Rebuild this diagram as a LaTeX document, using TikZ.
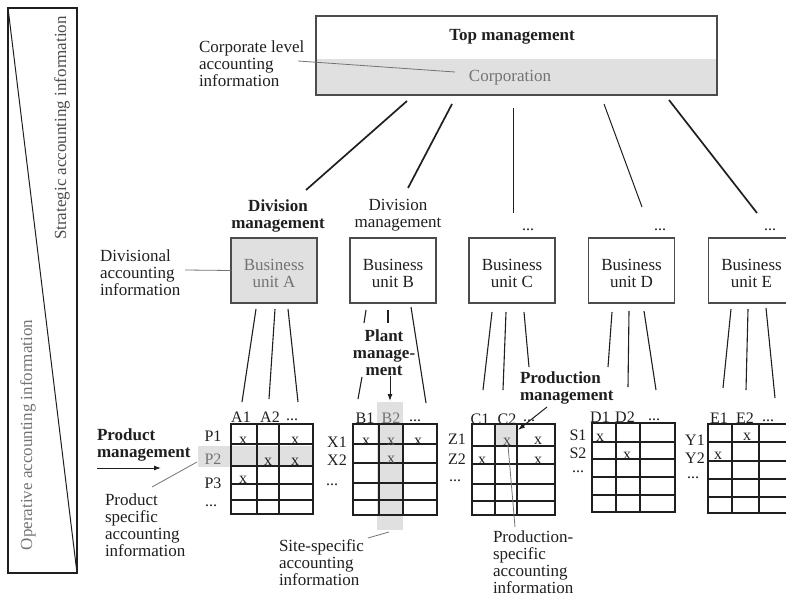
\documentclass[tikz,border=0pt]{standalone}
\usepackage{fontspec}
\setmainfont{Liberation Serif}
\usetikzlibrary{arrows.meta}

\definecolor{paleband}{gray}{0.88}
\definecolor{ink}{gray}{0.12}
\definecolor{soft}{gray}{0.45}
\definecolor{mid}{gray}{0.3}

% three dots used as an open-ended label
\newcommand\trail{...}

% grid of a responsibility matrix: name, left, top, right, bottom, col1, col2, row list
\newcommand\acgrid[8]{%
  \node[gridbox, minimum width={(#4)-(#2)}, minimum height={(#5)-(#3)}]
    (#1) at ({(#2+#4)/2},{(#3+#5)/2}) {};
  \foreach \r in {#8} {\draw[gridline] (#2,\r) -- (#4,\r);}
  \draw[gridline] (#6,#3) -- (#6,#5);
  \draw[gridline] (#7,#3) -- (#7,#5);
}

\begin{document}
\begin{tikzpicture}[x=1pt,y=-1pt,
  every node/.style={inner sep=0pt, outer sep=0pt},
  txt/.style={font=\fontsize{17}{17}\selectfont, align=left, text=ink},
  ctxt/.style={font=\fontsize{17}{17}\selectfont, align=center, text=ink},
  btxt/.style={font=\fontsize{17}{17}\selectfont\bfseries, align=left, text=ink},
  lbl/.style={font=\fontsize{16}{16}\selectfont, text=ink},
  xmark/.style={font=\fontsize{16}{16}\selectfont, text=ink},
  unitbox/.style={draw=mid, line width=1.1pt, minimum width=86pt, minimum height=65pt},
  gridbox/.style={draw=ink, line width=1.2pt},
  gridline/.style={draw=ink, line width=1.1pt},
  thickwire/.style={draw=ink, line width=1.7pt},
  thinwire/.style={draw=ink, line width=1pt},
  feeder/.style={draw=ink, line width=1.1pt},
  pointer/.style={draw=soft, line width=0.8pt},
  tip/.style={-{Latex[length=7pt,width=5pt]}, draw=ink, line width=1pt},
]
\useasboundingbox (0,0) rectangle (786,596);
\clip (0,0) rectangle (786,596);

% wedge: strategic versus operative information
\coordinate (wtl) at (8,8);
\coordinate (wbr) at (77,573);
\draw[draw=ink, line width=1.1pt] (wtl) rectangle (wbr);
\draw[draw=ink, line width=1pt] (wtl) -- (wbr);
\node[font=\fontsize{17}{17}\selectfont, text=mid, rotate=90] (strat) at (62,128)
  {Strategic accounting information};
\node[font=\fontsize{17}{17}\selectfont, text=soft, rotate=90] (oper) at (28,435)
  {Operative accounting information};

% corporation level
\fill[paleband] (316,59) rectangle (717,95);
\node[draw=mid, line width=1.1pt, minimum width=401pt, minimum height=79pt] (top) at (516.5,55.5) {};
\node[btxt] (topttl) at (512,37) {Top management};
\node[font=\fontsize{17}{17}\selectfont, text=soft] (corp) at (510,78) {Corporation};
\node[txt, anchor=west] (corptxt) at (199,64) {Corporate level\\accounting\\information};
\coordinate (cpa) at (298,61);
\coordinate (cpb) at (455,72);
\draw[pointer] (cpa) -- (cpb);

% links from the corporation to the divisions
\foreach \n/\xa/\ya/\xb/\yb/\w in {t1/407/101/306/190/thickwire, t2/452/104/408/188/thickwire,
    t3/513/108/513/213/thinwire, t4/604/104/642/207/thinwire, t5/669/100/757/213/thickwire} {
  \coordinate (\n s) at (\xa,\ya);
  \coordinate (\n e) at (\xb,\yb);
  \draw[\w] (\n s) -- (\n e);
}

% division labels
\node[btxt, align=center] (divA) at (278,215.5) {Division\\management};
\node[ctxt] (divB) at (398,215.5) {Division\\management};
\node[lbl] (dotsC) at (528,230) {\trail};
\node[lbl] (dotsD) at (660,230) {\trail};
\node[lbl] (dotsE) at (770,230) {\trail};

% business units
\node[unitbox, fill=paleband] (buA) at (274,270.5) {};
\node[unitbox] (buB) at (393,270.5) {};
\node[unitbox] (buC) at (512,270.5) {};
\node[unitbox] (buD) at (631.5,270.5) {};
\node[unitbox] (buE) at (751.5,270.5) {};
\node[ctxt, text=soft] (tA) at (274,273.5) {Business\\unit A};
\node[ctxt] (tB) at (393,273.5) {Business\\unit B};
\node[ctxt] (tC) at (512,273.5) {Business\\unit C};
\node[ctxt] (tD) at (631.5,273.5) {Business\\unit D};
\node[ctxt] (tE) at (751.5,273.5) {Business\\unit E};

\node[txt, anchor=west] (divinfo) at (100,273) {Divisional\\accounting\\information};
\coordinate (dva) at (185,270);
\draw[pointer] (dva) -- (buA.west);

% links from business units to the matrices
\foreach \n/\xa/\ya/\xb/\yb in {
    a1/256/309/242/402, a2/275/309/269/399, a3/288/309/298/402,
    b1/366/310/364/323, b2/388/310/388/323, b3/411/307/426/403, b4/362/377/358/399,
    c1/492/312/483/390, c2/506/312/503/390, c3/524/312/529/367,
    d1/612/312/608/367, d2/629/311/628/387, d3/644/311/656/390,
    e1/731/309/723/388, e2/748/309/746/390, e3/766/308/775/398} {
  \coordinate (\n s) at (\xa,\ya);
  \coordinate (\n e) at (\xb,\yb);
  \draw[feeder] (\n s) -- (\n e);
}

% highlighted areas
\fill[paleband] (198,446) rectangle (313,467);
\fill[paleband] (377,402) rectangle (403,530);
\fill[paleband] (495,423) rectangle (517,446);

% matrices
\acgrid{matA}{231}{424}{313}{514}{257}{279}{444,466,484,500}
\acgrid{matB}{353}{424}{437}{515}{379}{403}{444,463,483,500}
\acgrid{matC}{472}{424}{555}{515}{495}{517}{446,464,484,501}
\acgrid{matD}{592}{423}{675}{512}{616}{640}{442,459,477,495}
\acgrid{matE}{708}{424}{800}{513}{732}{759}{442,461,479,497}

% matrix headings
\foreach \n/\t/\x/\y in {hA1/A1/241/417, hA2/A2/270/417, hA3/\trail/292/420,
    rA1/P1/213/436, rA3/P3/213/483, rA4/\trail/211/506,
    hB1/B1/365/418, hB3/\trail/415/421,
    rB1/X1/337/442, rB2/X2/337/460, rB3/\trail/332/485,
    hC1/C1/480/419, hC2/C2/507/419, hC3/\trail/529/421,
    rC1/Z1/457/439, rC2/Z2/457/459, rC3/\trail/455/481,
    hD1/D1/600/417, hD2/D2/625/417, hD3/\trail/654/420,
    rD1/S1/578/435, rD2/S2/578/453, rD3/\trail/578/472,
    hE1/E1/719/418, hE2/E2/745/418, hE3/\trail/768/421,
    rE1/Y1/695/440.5, rE2/Y2/695/458.5, rE3/\trail/693/478} {
  \node[lbl] (\n) at (\x,\y) {\t};
}
\node[lbl, text=soft] (rA2) at (213,459) {P2};
\node[lbl, text=soft] (hB2) at (391,418) {B2};

% entries
\foreach \n/\x/\y in {xa1/243/441, xa2/295/441, xa3/268/462, xa4/295/462, xa5/243/480,
    xb1/366/442, xb3/418/442,
    xc2/538/441, xc3/482/461, xc4/538/461,
    xd1/600/438, xd2/627/456,
    xe1/747/437, xe2/718/456} {
  \node[xmark] (\n) at (\x,\y) {x};
}
\node[xmark, text=mid] (xb2) at (391,442) {x};
\node[xmark, text=mid] (xb4) at (391,460) {x};
\node[xmark, text=mid] (xc1) at (507,442) {x};

% product management
\node[btxt, anchor=west] (prodmgmt) at (97,445) {Product\\management};
\coordinate (pra) at (97,468);
\coordinate (prb) at (161,468);
\draw[tip] (pra) -- (prb);
\node[txt, anchor=west] (prodinfo) at (105,525.5) {Product\\specific\\accounting\\information};
\coordinate (pia) at (152,487);
\coordinate (pib) at (197,462);
\draw[pointer] (pia) -- (pib);

% plant management
\node[btxt, align=center] (plant) at (384,353) {Plant\\manage-\\ment};
\coordinate (pla) at (390,376);
\coordinate (plb) at (390,401);
\draw[tip] (pla) -- (plb);
\node[txt, anchor=west] (siteinfo) at (279,563) {Site-specific\\accounting\\information};
\coordinate (sia) at (368,538);
\coordinate (sib) at (389,532);
\draw[pointer] (sia) -- (sib);

% production management
\node[btxt, anchor=west] (prodnmgmt) at (520,388) {Production\\management};
\coordinate (pna) at (547,407);
\coordinate (pnb) at (518,430);
\draw[tip] (pna) -- (pnb);
\node[txt, anchor=west] (prodninfo) at (493,562) {Production-\\specific\\accounting\\information};
\coordinate (psa) at (508,445);
\coordinate (psb) at (515,527);
\draw[pointer] (psa) -- (psb);
\end{tikzpicture}
\end{document}
